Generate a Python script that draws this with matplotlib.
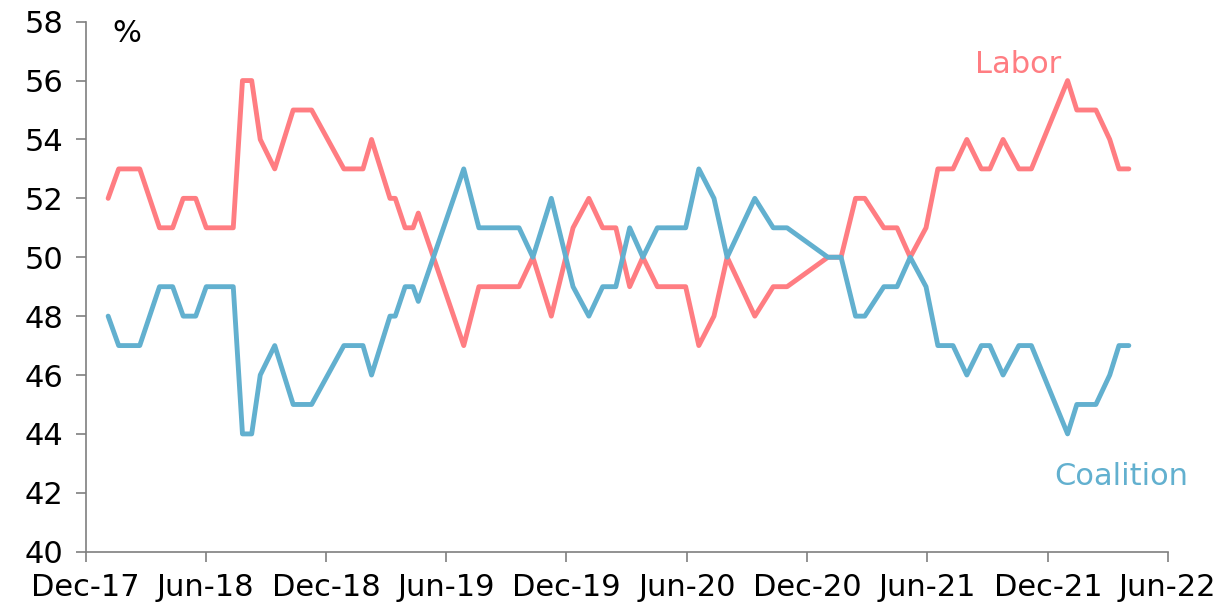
import numpy as np
import pandas as pd
import matplotlib
matplotlib.use("Agg")
import matplotlib.pyplot as plt
import matplotlib.dates as mdates

# fechas de cada encuesta
fechas = [
    "2018-01-04", "2018-01-20", "2018-02-21", "2018-03-23", "2018-04-12",
    "2018-04-28", "2018-05-17", "2018-06-02", "2018-07-13", "2018-07-27",
    "2018-08-10", "2018-08-23", "2018-09-14", "2018-10-12", "2018-11-09",
    "2018-12-28", "2019-01-26", "2019-02-08", "2019-03-08", "2019-03-16",
    "2019-03-31", "2019-04-12", "2019-04-20", "2019-06-28", "2019-07-21",
    "2019-09-20", "2019-10-11", "2019-11-08", "2019-12-11", "2020-01-04",
    "2020-01-25", "2020-02-14", "2020-03-06", "2020-03-26", "2020-04-17",
    "2020-05-30", "2020-06-19", "2020-07-12", "2020-08-01", "2020-09-12",
    "2020-10-10", "2020-10-31", "2021-01-01", "2021-01-21", "2021-02-12",
    "2021-02-26", "2021-03-27", "2021-04-16", "2021-05-06", "2021-05-30",
    "2021-06-17", "2021-07-10", "2021-07-31", "2021-08-22", "2021-09-04",
    "2021-09-24", "2021-10-18", "2021-11-06", "2021-12-31", "2022-01-14",
    "2022-02-12", "2022-03-05", "2022-03-19", "2022-04-03",
]

labor = [
    52, 53, 53, 51, 51, 52, 52, 51, 51, 56,
    56, 54, 53, 55, 55, 53, 53, 54, 52, 52,
    51, 51, 51.5, 47, 49, 49, 50, 48, 51, 52,
    51, 51, 49, 50, 49, 49, 47, 48, 50, 48,
    49, 49, 50, 50, 52, 52, 51, 51, 50, 51,
    53, 53, 54, 53, 53, 54, 53, 53, 56, 55,
    55, 54, 53, 53,
]

coalition = [
    48, 47, 47, 49, 49, 48, 48, 49, 49, 44,
    44, 46, 47, 45, 45, 47, 47, 46, 48, 48,
    49, 49, 48.5, 53, 51, 51, 50, 52, 49, 48,
    49, 49, 51, 50, 51, 51, 53, 52, 50, 52,
    51, 51, 50, 50, 48, 48, 49, 49, 50, 49,
    47, 47, 46, 47, 47, 46, 47, 47, 44, 45,
    45, 46, 47, 47,
]

x = pd.to_datetime(fechas)

color_labor = "#FF7D82"
color_coal = "#62B0CF"
gris = "#7f7f7f"

plt.rcParams['font.family'] = ['DejaVu Sans']

fig = plt.figure(figsize=(12.32, 6.09), dpi=100)
ax = fig.add_axes([0.0696, 0.0941, 0.8782, 0.8703])

ax.plot(x, labor, color=color_labor, lw=3.5,
        solid_capstyle='round', solid_joinstyle='round')
ax.plot(x, coalition, color=color_coal, lw=3.5,
        solid_capstyle='round', solid_joinstyle='round')

ax.set_xlim(pd.Timestamp("2017-12-01"), pd.Timestamp("2022-06-01"))
ax.set_ylim(40, 58)
ax.set_yticks(np.arange(40, 59, 2))

ticks = pd.date_range("2017-12-01", "2022-06-01", freq="6MS")
ax.set_xticks(ticks)
ax.xaxis.set_major_formatter(mdates.DateFormatter("%b-%y"))

for lado in ["top", "right"]:
    ax.spines[lado].set_visible(False)
for lado in ["left", "bottom"]:
    ax.spines[lado].set_color(gris)
    ax.spines[lado].set_linewidth(1.2)

ax.tick_params(axis='both', colors=gris, length=7, width=1.2,
               labelsize=22, labelcolor='black')
ax.tick_params(axis='x', pad=8)
ax.tick_params(axis='y', pad=9)

ax.text(0.025, 1.005, "%", transform=ax.transAxes, fontsize=22,
        ha='left', va='top')
ax.text(0.862, 0.920, "Labor", transform=ax.transAxes, fontsize=22,
        color=color_labor, ha='center', va='center')
ax.text(0.957, 0.142, "Coalition", transform=ax.transAxes, fontsize=22,
        color=color_coal, ha='center', va='center')

plt.savefig("out.png", dpi=100)
